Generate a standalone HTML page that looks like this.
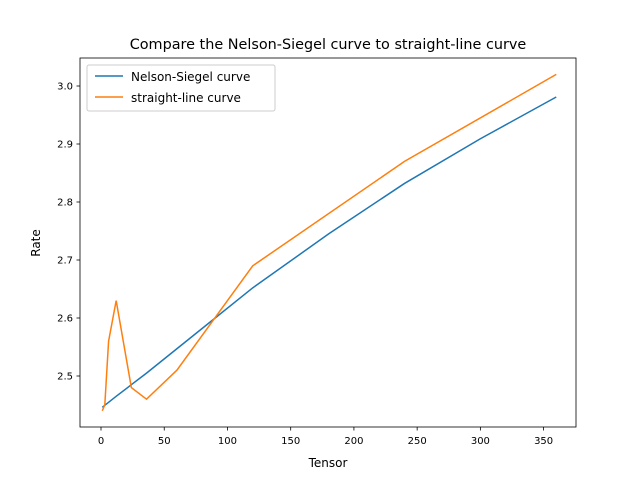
<!DOCTYPE html>
<html><head><meta charset="utf-8"><style>
body{margin:0;background:#fff;}
svg text{font-family:"DejaVu Sans","Liberation Sans",sans-serif;}
</style></head><body>
<svg id="chart" width="640" height="480" xmlns="http://www.w3.org/2000/svg">
<rect width="640" height="480" fill="#fff"/>
<text x="328" y="49" font-size="14.4" text-anchor="middle">Compare the Nelson-Siegel curve to straight-line curve</text>
<g id="plot"></g>
<rect x="80" y="58" width="496" height="369" fill="none" stroke="#000" stroke-width="0.8"/>
<text x="328" y="467" font-size="12" text-anchor="middle">Tensor</text>
<text x="0" y="0" font-size="12" text-anchor="middle" transform="translate(40,243) rotate(-90)">Rate</text>
<g>
<rect x="87" y="65" width="188" height="46" rx="2" fill="#fff" fill-opacity="0.8" stroke="#ccc"/>
<line x1="95" y1="76" x2="123" y2="76" stroke="#1f77b4" stroke-width="1.5"/>
<text x="131" y="81" font-size="12">Nelson-Siegel curve</text>
<line x1="95" y1="97" x2="123" y2="97" stroke="#ff7f0e" stroke-width="1.5"/>
<text x="131" y="102" font-size="12">straight-line curve</text>
</g>
</svg>
<script>
const xTicks=[0,50,100,150,200,250,300,350];
const yTicks=[2.5,2.6,2.7,2.8,2.9,3.0];
const nsTenors=[1,12,24,36,60,84,120,180,240,300,360];
const nsRates=[2.446,2.465,2.485,2.505,2.547,2.589,2.652,2.745,2.832,2.909,2.981];
const slTenors=[1,3,6,12,24,36,60,120,240,360];
const slRates=[2.44,2.45,2.56,2.63,2.48,2.46,2.51,2.69,2.87,3.02];
const X=v=>101+v*1.2646;
const Y=v=>376-(v-2.5)*580;
const g=document.getElementById('plot');
const NS='http://www.w3.org/2000/svg';
function mk(t,a){const e=document.createElementNS(NS,t);for(const k in a)e.setAttribute(k,a[k]);g.appendChild(e);return e;}
xTicks.forEach(v=>{
  const l=mk('line',{x1:X(v),x2:X(v),y1:427,y2:430.5,stroke:'#000','stroke-width':0.8});
  
  
  const t=mk('text',{x:X(v),y:444,'font-size':10,'text-anchor':'middle'});t.textContent=v;
  
  
});
yTicks.forEach(v=>{
  const l=mk('line',{x1:76.5,x2:80,y1:Y(v),y2:Y(v),stroke:'#000','stroke-width':0.8});
  
  
  const t=mk('text',{x:73,y:Y(v)+3.5,'font-size':10,'text-anchor':'end'});t.textContent=v.toFixed(1);
  
  
});
const p1=mk('polyline',{points:nsTenors.map((t,i)=>X(t)+','+Y(nsRates[i])).join(' '),fill:'none',stroke:'#1f77b4','stroke-width':1.5});


const p2=mk('polyline',{points:slTenors.map((t,i)=>X(t)+','+Y(slRates[i])).join(' '),fill:'none',stroke:'#ff7f0e','stroke-width':1.5});


</script>
</body></html>
